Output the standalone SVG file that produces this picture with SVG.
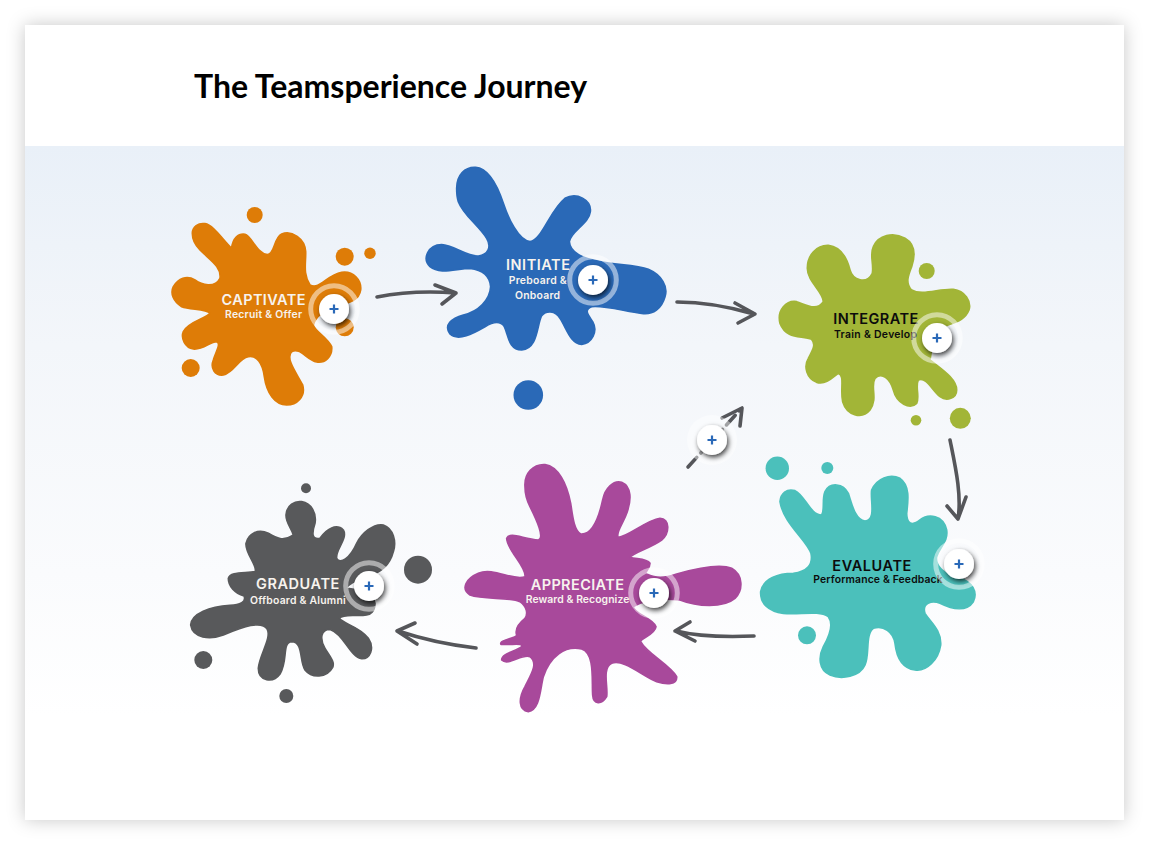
<svg xmlns="http://www.w3.org/2000/svg" width="1150" height="844" viewBox="0 0 1150 844">
<style>
.title{font-family:"Lato","Liberation Sans",sans-serif;font-weight:700;font-size:32px;fill:#000}
.h{font-family:"Inter","Liberation Sans",sans-serif;font-weight:600;font-size:14.5px}
.s{font-family:"Inter","Liberation Sans",sans-serif;font-weight:600;font-size:10.4px}
.w{fill:#f7f3ee}
.k{fill:#0c0c0c}
.blob{stroke-width:5;stroke-linejoin:round}
.arrow{fill:none;stroke:#55565a;stroke-width:3.6;stroke-linecap:round;stroke-linejoin:round}
.plus{fill:none;stroke:#2a69b8;stroke-width:2.2;stroke-linecap:butt}
</style>
<defs>
<linearGradient id="bg" x1="0" y1="0" x2="0" y2="1">
<stop offset="0" stop-color="#e9f0f8"/>
<stop offset="0.35" stop-color="#f3f6fa"/>
<stop offset="0.75" stop-color="#fafbfd"/>
<stop offset="1" stop-color="#ffffff"/>
</linearGradient>
<filter id="card" x="-5%" y="-5%" width="110%" height="110%"><feDropShadow dx="0" dy="0" stdDeviation="9" flood-color="#000" flood-opacity=".22"/></filter>
<filter id="sh" x="-80%" y="-80%" width="260%" height="260%"><feDropShadow dx="1.5" dy="2.5" stdDeviation="2.6" flood-color="#000" flood-opacity=".75"/></filter>
<g id="btn">
<circle r="23.3" fill="none" stroke="#fff" stroke-width="5" opacity=".5"/>
<circle r="15" fill="#fff" filter="url(#sh)"/>
<path class="plus" d="M-4.5 0H4.5M0-4.5V4.5"/>
</g>
</defs>
<rect width="1150" height="844" fill="#fff"/>
<rect x="25" y="25" width="1099" height="795" fill="#fff" filter="url(#card)"/>
<rect x="25" y="146" width="1099" height="570" fill="url(#bg)"/>
<text class="title" x="194" y="98">The Teamsperience Journey</text>

<g id="connectors">
<path class="arrow" d="M377 297C402 292 430 291 456 293M435 285L456 293L442 304"/>
<path class="arrow" d="M677 302C703 302 730 307 754 314M735 303L755 314L738 323"/>
<path class="arrow" d="M950 440C955 465 962 495 958 519M947 506L958 519L966 497"/>
<path class="arrow" d="M754 636C730 637 700 637 676 631M690 622L675 631L695 641"/>
<path class="arrow" d="M476 648C450 645 425 640 398 631M415 623L397 631L417 644"/>
<path class="arrow" stroke-dasharray="13 6" d="M688 467L741 409"/>
<path class="arrow" d="M722 418L742 408L740 426"/>
</g>

<g id="captivate">
<path class="blob" fill="#de7c07" stroke="#de7c07" transform="translate(150 150) scale(.33333)" d="M127 250C127 230 145 218 165 221C190 225 215 265 245 295C248 265 265 250 285 253C305 258 320 310 352 314C375 312 370 265 395 252C425 240 465 265 467 305C468 340 458 370 480 405C510 420 530 375 575 367C610 362 635 390 632 420C628 450 600 460 560 465C530 475 495 500 490 525C495 545 530 560 545 590C548 620 525 640 500 636C470 630 450 590 425 605C405 625 440 670 458 705C468 740 440 765 410 765C375 765 350 730 343 680C338 640 320 615 295 620C265 625 255 665 220 675C195 678 180 655 190 630C195 610 215 580 200 575C180 575 160 600 130 597C105 593 92 565 100 545C115 515 170 505 180 490C170 475 120 480 95 470C70 455 60 430 70 410C85 385 110 375 135 390C155 405 195 415 210 385C215 350 180 330 150 300C135 285 127 270 127 250Z"/>
<g fill="#de7c07"><circle cx="254.7" cy="215" r="8"/><circle cx="344.7" cy="256.7" r="9"/><circle cx="370" cy="253.3" r="5.7"/><circle cx="190.7" cy="368" r="9"/><circle cx="344.7" cy="327.3" r="9"/></g>
<text class="h w" x="221.5" y="305" textLength="84">CAPTIVATE</text>
<text class="s w" x="225" y="318.3" textLength="77">Recruit &amp; Offer</text>
<use href="#btn" x="334" y="309"/>
</g>

<g id="initiate">
<path class="blob" fill="#2a69b7" stroke="#2a69b7" transform="translate(410 150) scale(.33333)" d="M140 115C140 75 165 50 197 52C235 55 260 100 280 160C295 205 325 270 360 275C395 272 420 180 465 145C500 125 545 150 541 185C538 220 480 245 478 275C480 310 520 325 570 335C620 345 680 345 715 358C755 375 775 410 765 440C755 475 730 495 695 490C650 485 580 465 545 470C520 480 535 495 548 515C565 545 545 580 515 583C480 580 470 535 450 505C435 482 410 480 395 497C380 525 385 595 335 600C295 600 295 555 283 530C270 510 250 515 225 530C190 550 145 575 120 552C100 525 125 505 160 495C205 485 240 450 242 410C240 380 220 360 180 355C140 355 90 375 60 350C35 325 55 285 95 284C130 285 170 320 205 318C235 315 245 290 230 265C205 225 160 195 145 155C140 140 140 130 140 115Z"/>
<circle fill="#2a69b7" cx="528.3" cy="395" r="14.8"/>
<text class="h w" x="506" y="270" textLength="64">INITIATE</text>
<text class="s w" x="508.7" y="284" textLength="58">Preboard &amp;</text>
<text class="s w" x="515" y="299" textLength="45">Onboard</text>
<use href="#btn" x="593" y="280"/>
</g>

<g id="integrate">
<path class="blob" fill="#a2b537" stroke="#a2b537" transform="translate(670 220) scale(.33333)" d="M412 145C412 105 440 75 475 76C510 80 530 110 540 150C548 180 590 195 607 160C612 130 598 105 610 80C625 45 670 35 705 55C740 75 735 110 725 140C715 165 705 190 725 210C755 228 810 205 850 208C885 212 905 245 897 270C885 300 860 305 825 318C800 330 790 350 780 420C810 445 860 475 860 510C860 535 830 545 810 530C785 510 770 470 745 480C735 500 750 530 740 550C720 570 680 550 670 510C660 475 635 455 615 475C600 500 625 535 600 570C575 600 530 585 518 545C510 510 525 465 505 460C490 470 470 495 440 487C410 475 400 440 415 415C425 395 440 375 425 358C395 345 350 360 330 310C320 270 350 240 380 245C410 255 440 275 460 245C460 215 412 185 412 145Z"/>
<g fill="#a2b537"><circle cx="926.7" cy="271" r="8"/><circle cx="960.3" cy="418.3" r="10.5"/><circle cx="916" cy="420.3" r="5.3"/></g>
<text class="h k" x="833.3" y="324.3" textLength="85">INTEGRATE</text>
<text class="s k" x="834" y="338.3" textLength="83">Train &amp; Develop</text>
<use href="#btn" x="937" y="338"/>
</g>

<g id="evaluate">
<path class="blob" fill="#4bc0bb" stroke="#4bc0bb" transform="translate(740 450) scale(.33333)" d="M120 155C122 130 140 115 165 122C195 135 210 195 245 195C255 180 245 150 255 125C270 95 310 100 325 130C335 160 345 210 375 213C410 210 390 150 395 120C410 85 450 70 480 85C510 105 505 150 500 190C500 220 515 230 540 210C565 190 610 195 620 240C625 275 600 290 590 320C585 345 610 375 660 385C695 395 715 425 700 455C680 485 640 480 600 460C575 450 545 460 555 490C570 515 605 540 602 585C595 630 560 665 525 660C490 655 470 625 465 580C460 545 430 525 400 535C375 555 390 610 375 645C360 680 305 690 270 675C235 660 235 620 250 590C270 555 280 520 265 500C235 480 180 495 130 490C85 485 60 460 62 425C70 385 115 370 160 370C200 365 220 345 213 310C200 270 130 220 120 155Z"/>
<g fill="#4bc0bb"><circle cx="777.3" cy="468.3" r="11.7"/><circle cx="827.3" cy="468" r="6"/><circle cx="807" cy="635.3" r="9"/></g>
<text class="h k" x="832.3" y="570.7" textLength="79">EVALUATE</text>
<text class="s k" x="813.3" y="583.3" textLength="129.4">Performance &amp; Feedback</text>
<use href="#btn" x="959" y="564"/>
</g>

<g id="appreciate">
<path class="blob" fill="#a8499b" stroke="#a8499b" transform="translate(450 450) scale(.33333)" d="M225 110C222 70 250 42 285 44C325 50 350 100 362 160C368 200 372 240 392 252C425 255 445 210 458 150C465 115 490 90 515 97C545 110 545 150 530 190C520 220 495 250 505 262C535 260 590 210 630 205C660 205 660 250 635 270C600 295 545 310 540 322C560 328 590 325 600 340C600 360 580 368 590 372C620 385 640 385 680 372C740 355 810 340 845 355C880 375 880 420 855 445C820 475 740 470 690 450C640 445 590 445 550 470C550 490 610 505 618 530C615 555 570 565 572 575C590 610 660 645 680 680C682 705 650 705 620 695C580 680 520 625 485 640C455 655 475 710 470 740C455 765 430 765 428 735C425 690 435 610 395 597C345 585 300 620 280 680C270 720 270 780 235 785C205 780 205 745 225 710C245 670 265 640 240 620C215 610 175 650 155 630C155 610 195 605 215 590C220 578 190 585 153 583C145 570 200 565 200 555C195 540 200 525 225 505C235 490 230 470 210 455C180 440 100 450 60 435C30 415 50 385 85 370C130 350 190 395 225 380C230 350 170 300 170 265C180 245 215 265 265 270C285 265 260 210 240 170C230 150 225 130 225 110Z"/>
<text class="h w" x="530.7" y="590" textLength="93.3">APPRECIATE</text>
<text class="s w" x="525.7" y="603.3" textLength="103.6">Reward &amp; Recognize</text>
<use href="#btn" x="654" y="593"/>
</g>

<g id="graduate">
<path class="blob" fill="#58595b" stroke="#58595b" transform="translate(180 470) scale(.33333)" d="M318 135C320 105 345 92 365 95C395 100 410 130 405 160C395 190 395 210 420 205C440 175 470 160 490 180C505 205 465 240 470 265C480 285 510 265 530 220C545 190 580 160 610 165C640 175 650 215 640 245C630 285 600 310 560 320C520 335 510 340 497 355C520 355 580 370 585 400C585 425 570 435 560 435C530 440 490 430 478 445C490 462 540 470 565 505C585 535 570 567 545 566C510 562 490 490 450 478C420 478 420 510 435 535C450 560 465 575 458 592C440 625 395 625 375 600C358 575 370 515 335 515C305 518 325 570 300 612C280 640 235 635 235 595C238 555 275 505 262 478C245 450 190 470 130 495C90 510 38 505 32 465C35 430 90 410 150 406C180 405 200 395 192 378C165 370 145 350 145 325C150 305 190 310 225 305C235 290 195 250 198 220C205 190 235 175 265 190C290 205 310 215 340 195C335 175 318 160 318 135Z"/>
<g fill="#58595b"><circle cx="306" cy="488.3" r="5"/><circle cx="418" cy="569.7" r="14"/><circle cx="203.3" cy="660" r="9"/><circle cx="286.3" cy="696" r="7"/></g>
<text class="h w" x="256" y="589.3" textLength="83.3">GRADUATE</text>
<text class="s w" x="250" y="604" textLength="95.7">Offboard &amp; Alumni</text>
<use href="#btn" x="369" y="586"/>
</g>

<g id="connector-button">
<circle cx="712" cy="440" r="25" fill="#fff" opacity=".45"/>
<circle cx="712" cy="440" r="15" fill="#fff" filter="url(#sh)"/>
<path class="plus" transform="translate(712 440)" d="M-4.5 0H4.5M0-4.5V4.5"/>
</g>
</svg>
